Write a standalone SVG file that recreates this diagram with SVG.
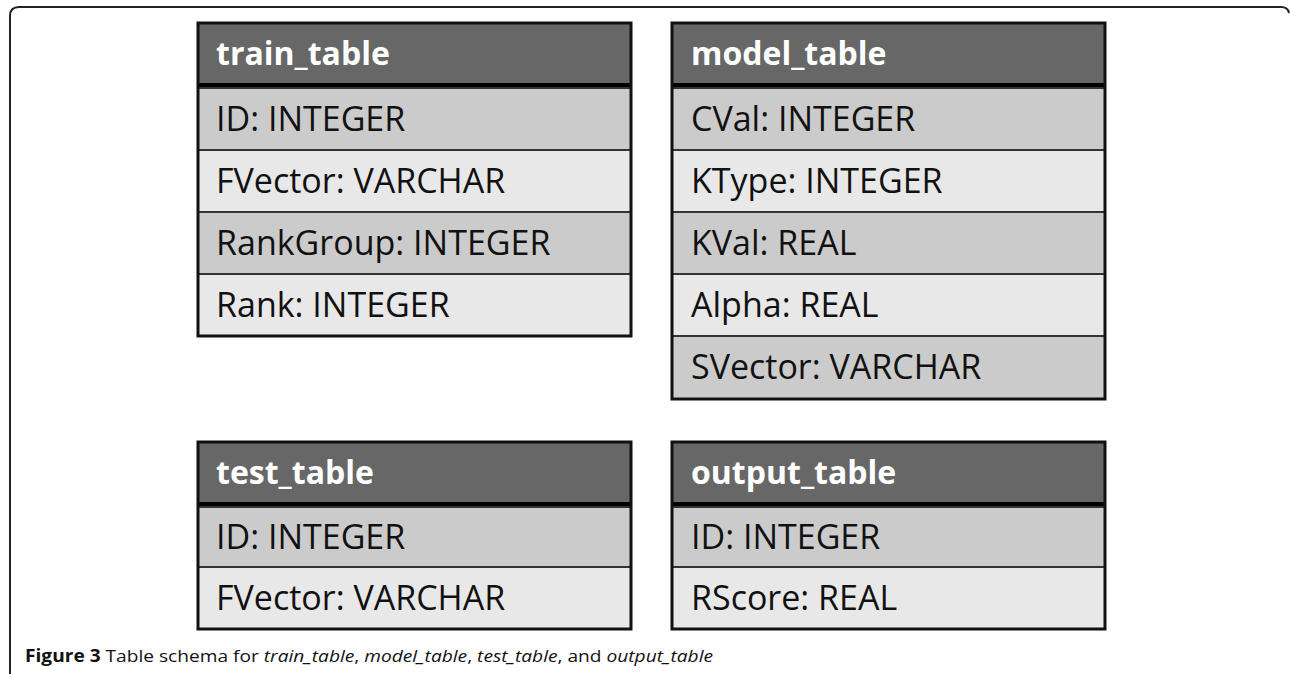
<svg xmlns="http://www.w3.org/2000/svg" width="1290" height="674" viewBox="0 0 1290 674">
<style>
.frame{fill:none;stroke:#222;stroke-width:2}
.hdr{fill:#676767}
.sep{fill:#000}
.rd{fill:#cbcbcb;stroke:#333;stroke-width:2}
.rl{fill:#e8e8e8;stroke:#333;stroke-width:2}
.box{fill:none;stroke:#111;stroke-width:3}
.ht{font-family:"Open Sans","Noto Sans",sans-serif;font-weight:bold;font-size:32px;fill:#fff}
.ft{font-family:"Open Sans","Noto Sans",sans-serif;font-size:34px;fill:#111}
.cap{font-family:"Open Sans","Noto Sans",sans-serif;font-size:17px;fill:#111}
</style>
<rect width="1290" height="674" fill="#fff"/>
<path class="frame" d="M10,674 L10,16 Q10,7 19,7 L1281,7 Q1288,7 1289,13"/>

<g id="train_table">
<rect class="hdr" x="198" y="23" width="433" height="60"/>
<rect class="sep" x="198" y="83" width="433" height="5"/>
<rect class="rd" x="198" y="88" width="433" height="62"/>
<rect class="rl" x="198" y="150" width="433" height="62"/>
<rect class="rd" x="198" y="212" width="433" height="62"/>
<rect class="rl" x="198" y="274" width="433" height="62"/>
<rect class="box" x="198" y="23" width="433" height="313"/>
<text class="ht" x="216" y="65">train_table</text>
<text class="ft" x="216" y="131">ID: INTEGER</text>
<text class="ft" x="216" y="193">FVector: VARCHAR</text>
<text class="ft" x="216" y="255">RankGroup: INTEGER</text>
<text class="ft" x="216" y="317">Rank: INTEGER</text>
</g>

<g id="model_table">
<rect class="hdr" x="672" y="23" width="433" height="60"/>
<rect class="sep" x="672" y="83" width="433" height="5"/>
<rect class="rd" x="672" y="88" width="433" height="62"/>
<rect class="rl" x="672" y="150" width="433" height="62"/>
<rect class="rd" x="672" y="212" width="433" height="62"/>
<rect class="rl" x="672" y="274" width="433" height="62"/>
<rect class="rd" x="672" y="336" width="433" height="63"/>
<rect class="box" x="672" y="23" width="433" height="376"/>
<text class="ht" x="691" y="65">model_table</text>
<text class="ft" x="691" y="131">CVal: INTEGER</text>
<text class="ft" x="691" y="193">KType: INTEGER</text>
<text class="ft" x="691" y="255">KVal: REAL</text>
<text class="ft" x="691" y="317">Alpha: REAL</text>
<text class="ft" x="691" y="379">SVector: VARCHAR</text>
</g>

<g id="test_table">
<rect class="hdr" x="198" y="442" width="433" height="60"/>
<rect class="sep" x="198" y="502" width="433" height="5"/>
<rect class="rd" x="198" y="507" width="433" height="60"/>
<rect class="rl" x="198" y="567" width="433" height="62"/>
<rect class="box" x="198" y="442" width="433" height="187"/>
<text class="ht" x="216" y="484">test_table</text>
<text class="ft" x="216" y="549">ID: INTEGER</text>
<text class="ft" x="216" y="610">FVector: VARCHAR</text>
</g>

<g id="output_table">
<rect class="hdr" x="672" y="442" width="433" height="60"/>
<rect class="sep" x="672" y="502" width="433" height="5"/>
<rect class="rd" x="672" y="507" width="433" height="60"/>
<rect class="rl" x="672" y="567" width="433" height="62"/>
<rect class="box" x="672" y="442" width="433" height="187"/>
<text class="ht" x="691" y="484">output_table</text>
<text class="ft" x="691" y="549">ID: INTEGER</text>
<text class="ft" x="691" y="610">RScore: REAL</text>
</g>

<g id="connectors"></g>

<text class="cap" x="25" y="662" textLength="688" lengthAdjust="spacingAndGlyphs"><tspan font-weight="bold">Figure 3</tspan> Table schema for <tspan font-style="italic">train_table</tspan>, <tspan font-style="italic">model_table</tspan>, <tspan font-style="italic">test_table</tspan>, and <tspan font-style="italic">output_table</tspan></text>
</svg>
